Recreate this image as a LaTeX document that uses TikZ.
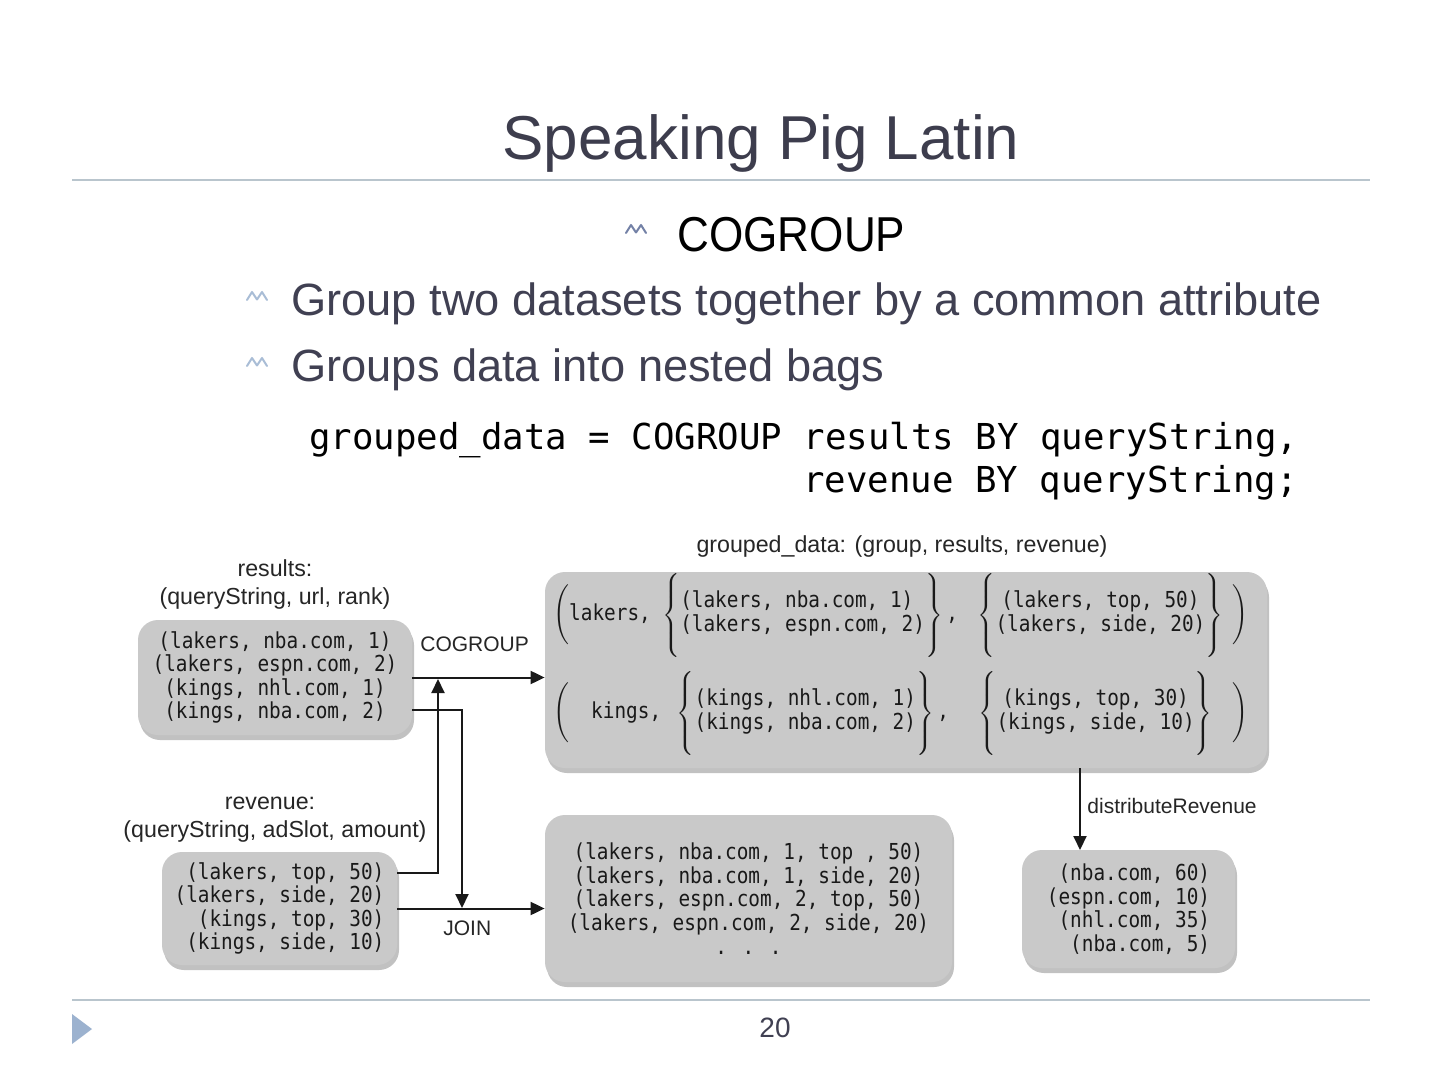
\documentclass[tikz,border=0pt]{standalone}
\usepackage{fontspec}
\setmainfont{Liberation Sans}
\setmonofont{DejaVu Sans Mono}
\newfontfamily\narrowSans[FakeStretch=0.9]{Liberation Sans}
\newfontfamily\narrowMono[FakeStretch=0.88]{DejaVu Sans Mono}
\definecolor{titleText}{HTML}{3D3D4D}
\definecolor{bodyText}{HTML}{404052}
\definecolor{ruleLine}{HTML}{B9C5CD}
\definecolor{bulletDark}{HTML}{7381A6}
\definecolor{bulletLight}{HTML}{A9BDD6}
\definecolor{boxGray}{HTML}{C9C9C9}
\definecolor{labelText}{HTML}{262626}
\definecolor{footTri}{HTML}{9CB2CF}
\usetikzlibrary{arrows.meta, positioning, shadows}
\newcommand{\braceStrut}{\vcenter{\hrule height 40pt width 0pt}}
\newcommand{\diagMono}{\narrowMono\fontsize{11}{11.8}\selectfont}
\tikzset{
  dataBox/.style={fill=boxGray, rounded corners=10pt, inner sep=0pt, align=center,
    font=\diagMono, text=black!90,
    drop shadow={shadow xshift=1pt, shadow yshift=-2.5pt, opacity=0.4, fill=black!60}},
  rowText/.style={font=\diagMono, text=black!90, inner sep=0pt},
  diagLabel/.style={font=\fontsize{11.6}{13.5}\selectfont, text=labelText, inner sep=0pt},
  opLabel/.style={font=\fontsize{10.5}{12.5}\selectfont, text=labelText, inner sep=0pt},
  flowArrow/.style={-{Triangle[length=7pt,width=6.5pt]}, line width=1pt, draw=black!90},
  slideRule/.style={draw=ruleLine, line width=0.9pt},
  pigMark/.pic={\draw[line width=1pt, line join=round, line cap=round]
    (-10,4) -- (-5,-4) -- (0,3.5) -- (5,-4) -- (10,4);}
}

\begin{document}
\begin{tikzpicture}[x=0.5pt, y=-0.5pt, every node/.append style={inner sep=0pt}]
        \useasboundingbox (0,0) rectangle (1440,1080);
        \fill[white] (0,0) rectangle (1440,1080);

        \node[font=\fontsize{31}{36}\selectfont, text=titleText, anchor=base] (title) at (761,160) {Speaking Pig Latin};
        \draw[slideRule] (72,180) -- (1370,180);

        \pic[color=bulletDark] at (636,229) {pigMark};
        \node[font=\narrowSans\fontsize{24.5}{28}\selectfont, text=black, anchor=base west] (cogroupHead) at (677,252) {COGROUP};
        \pic[color=bulletLight] at (257,296) {pigMark};
        \node[font=\fontsize{22.6}{26}\selectfont, text=bodyText, anchor=base west] (pointA) at (291,316) {Group two datasets together by a common attribute};
        \pic[color=bulletLight] at (257,362) {pigMark};
        \node[font=\fontsize{22.6}{26}\selectfont, text=bodyText, anchor=base west] (pointB) at (291,382) {Groups data into nested bags};

        \node[font=\ttfamily\fontsize{17.85}{21}\selectfont, anchor=base west] (codeLineA) at (309,450) {grouped\_data = COGROUP results BY queryString,};
        \node[font=\ttfamily\fontsize{17.85}{21}\selectfont, anchor=base west] (codeLineB) at (803,493) {revenue BY queryString;};

        \node[diagLabel, anchor=base] (grpLabel) at (902,552) {grouped\_data: (group, results, revenue)};
        \node[diagLabel, anchor=base] (resLabel) at (275,576) {results:};
        \node[diagLabel, anchor=base] (resFields) at (275,604) {(queryString, url, rank)};
        \node[diagLabel, anchor=base] (revLabel) at (270,809) {revenue:};
        \node[diagLabel, anchor=base] (revFields) at (275,837) {(queryString, adSlot, amount)};

        \node[dataBox, minimum width=137pt, minimum height=57.5pt] (res) at (275,677.5)
          {(lakers, nba.com, 1)\\(lakers, espn.com, 2)\\(kings, nhl.com, 1)\\(kings, nba.com, 2)};
        \node[dataBox, align=right, minimum width=117.5pt, minimum height=56.5pt] (rev) at (279.5,908.5)
          {(lakers, top, 50)\\(lakers, side, 20)\\(kings, top, 30)\\(kings, side, 10)};
        \node[dataBox, minimum width=361pt, minimum height=98pt] (grp) at (906,670) {};
        \node[dataBox, minimum width=203.5pt, minimum height=83.5pt] (join) at (748.5,898.5)
          {(lakers, nba.com, 1, top , 50)\\(lakers, nba.com, 1, side, 20)\\(lakers, espn.com, 2, top, 50)\\(lakers, espn.com, 2, side, 20)\\. . .};
        \node[dataBox, align=right, minimum width=106.5pt, minimum height=59pt] (dist) at (1128.5,909)
          {(nba.com, 60)\\(espn.com, 10)\\(nhl.com, 35)\\(nba.com, 5)};

        \node[rowText, anchor=west] (lakersRow) at (553,615)
          {$\Bigg(\mbox{lakers,}\hspace{4pt}\left\{\begin{tabular}{@{}l@{}}(lakers, nba.com, 1)\\(lakers, espn.com, 2)\end{tabular}\braceStrut\right\}\mbox{,}\hspace{8pt}\left\{\begin{tabular}{@{}c@{}}(lakers, top, 50)\\(lakers, side, 20)\end{tabular}\braceStrut\right\}\hspace{3pt}\Bigg)$};
        \node[rowText, anchor=west] (kingsRow) at (553,713)
          {$\Bigg(\hspace{11pt}\mbox{kings,}\hspace{6pt}\left\{\begin{tabular}{@{}l@{}}(kings, nhl.com, 1)\\(kings, nba.com, 2)\end{tabular}\braceStrut\right\}\mbox{,}\hspace{13pt}\left\{\begin{tabular}{@{}c@{}}(kings, top, 30)\\(kings, side, 10)\end{tabular}\braceStrut\right\}\hspace{8pt}\Bigg)$};

        \node[opLabel, anchor=base west] (cogroupOp) at (420,651) {COGROUP};
        \node[opLabel, anchor=base west] (joinOp) at (443,935) {JOIN};
        \node[opLabel, anchor=base west] (distOp) at (1087,813) {distributeRevenue};

        \coordinate (joinDrop) at (462,908);
        \coordinate (cogroupRise) at (438,679);
        \coordinate (distTop) at (1080,850);
        \draw[flowArrow] (res.east) -- (res.east -| grp.west);
        \draw[flowArrow] ([yshift=-16.25pt]res.east) -| (joinDrop);
        \draw[flowArrow] ([yshift=17.75pt]rev.east) -| (cogroupRise);
        \draw[flowArrow] (rev.east) -- (rev.east -| join.west);
        \draw[flowArrow] (grp.south -| distTop) -- (distTop);

        \draw[slideRule] (72,1000) -- (1370,1000);
        \fill[footTri] (72,1014) -- (92,1029) -- (72,1044) -- cycle;
        \node[font=\fontsize{14}{16}\selectfont, text=bodyText, anchor=base] (pageNum) at (775,1037) {20};
      \end{tikzpicture}
\end{document}
